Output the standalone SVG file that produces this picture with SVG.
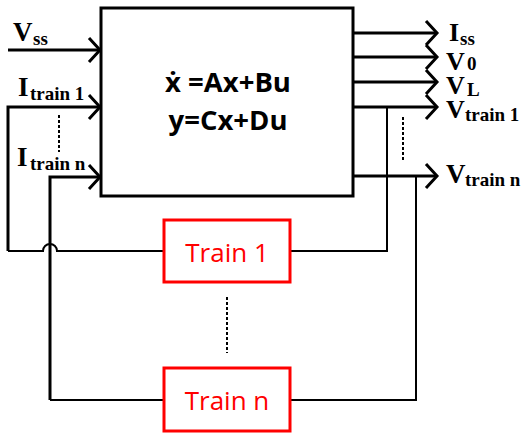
<svg xmlns="http://www.w3.org/2000/svg" width="523" height="437" viewBox="0 0 523 437">
<style>
.lbl{font-family:"Liberation Serif","Times New Roman",serif;font-weight:bold;fill:#000}
.big{font-size:27px}
.rbig{font-size:26px}
.sub{font-size:19px}
.eq{font-family:"Open Sans","Noto Sans","DejaVu Sans",sans-serif;font-weight:bold;font-size:27.5px;fill:#000;text-anchor:middle}
.tr{font-family:"Open Sans","Noto Sans",sans-serif;font-size:26px;fill:#ff0000;text-anchor:middle}
.box{fill:#fff;stroke:#000;stroke-width:3}
.rbox{fill:#fff;stroke:#ff0000;stroke-width:3}
.io{fill:none;stroke:#000;stroke-width:3;marker-end:url(#arr)}
.fb{fill:none;stroke:#000;stroke-width:2}
.dot{fill:none;stroke:#000;stroke-width:2;stroke-dasharray:3 2}
</style>
<defs>
<marker id="arr" viewBox="0 0 14 26" refX="12" refY="13" markerWidth="14" markerHeight="26" markerUnits="userSpaceOnUse" orient="auto" overflow="visible">
<path d="M1,1 L12,13 L1,25" fill="none" stroke="#000" stroke-width="3"/>
</marker>
</defs>
<g id="connectors">
<path class="io" d="M8,50 H100"/>
<path class="io" d="M8,251 V107 H100"/>
<path class="io" d="M50,400 V177 H100"/>
<path class="io" d="M353,33 H437"/>
<path class="io" d="M353,57 H437"/>
<path class="io" d="M353,82 H437"/>
<path class="io" d="M353,107 H437"/>
<path class="io" d="M353,176 H437"/>
<path class="fb" d="M8,251 H43 A7,7 0 0 1 57,251 H164"/>
<path class="fb" d="M50,400 H164"/>
<path class="fb" d="M387,107 V251 H290"/>
<path class="fb" d="M416,176 V400 H290"/>
<path class="dot" d="M59,115 V152"/>
<path class="dot" d="M403,117 V160"/>
<path class="dot" d="M227,297 V353"/>
</g>
<g id="system">
<rect class="box" x="101" y="8" width="252" height="188"/>
<text class="eq" x="228" y="92">ẋ =Ax+Bu</text>
<text class="eq" x="228" y="130">y=Cx+Du</text>
</g>
<g id="train1">
<rect class="rbox" x="164" y="220" width="126" height="62"/>
<text class="tr" x="227" y="262">Train 1</text>
</g>
<g id="trainn">
<rect class="rbox" x="164" y="368" width="126" height="63"/>
<text class="tr" x="227" y="410">Train n</text>
</g>
<g id="labels">
<text class="lbl"><tspan class="big" x="13" y="41">V</tspan><tspan class="sub" x="33" y="45">ss</tspan></text>
<text class="lbl"><tspan class="big" x="18" y="96">I</tspan><tspan class="sub" x="30" y="100">train 1</tspan></text>
<text class="lbl"><tspan class="big" x="17" y="166">I</tspan><tspan class="sub" x="30" y="170">train n</tspan></text>
<text class="lbl"><tspan class="rbig" x="449" y="41">I</tspan><tspan class="sub" x="460" y="45">ss</tspan></text>
<text class="lbl"><tspan class="rbig" x="446" y="70">V</tspan><tspan class="sub" x="467" y="70">0</tspan></text>
<text class="lbl"><tspan class="rbig" x="446" y="94">V</tspan><tspan class="sub" x="467" y="96">L</tspan></text>
<text class="lbl"><tspan class="rbig" x="446" y="118">V</tspan><tspan class="sub" x="465" y="121">train 1</tspan></text>
<text class="lbl"><tspan class="big" x="446" y="183">V</tspan><tspan class="sub" x="465" y="186">train n</tspan></text>
</g>
</svg>
